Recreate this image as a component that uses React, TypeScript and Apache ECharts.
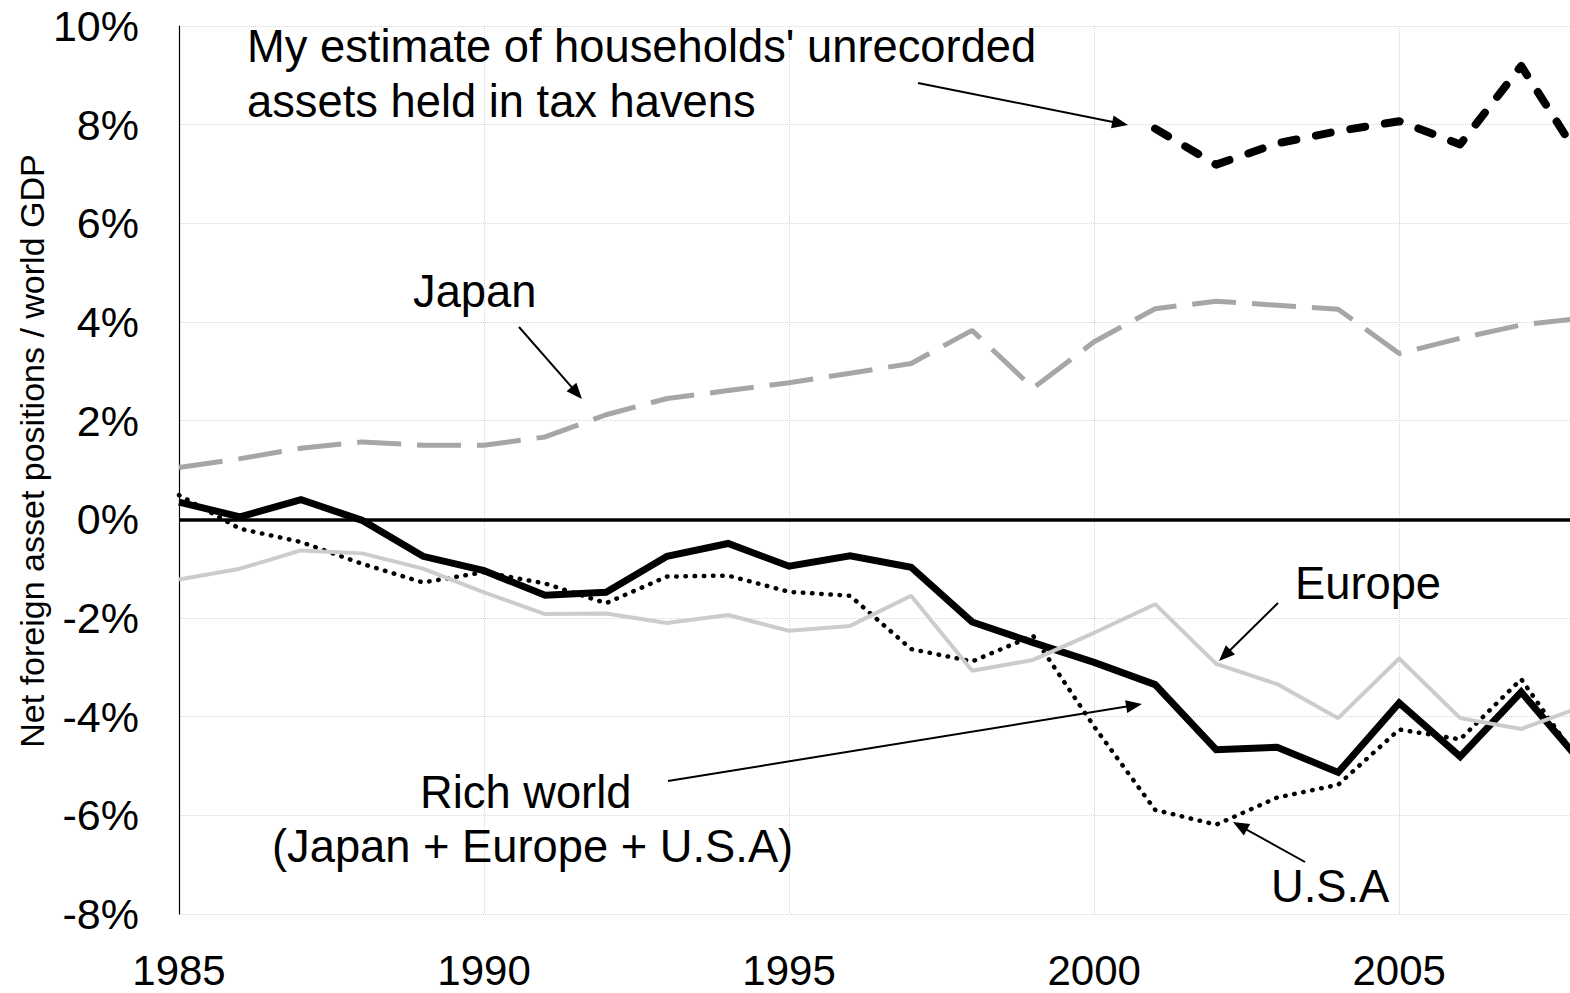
import React, { useEffect, useRef } from "react";
import * as echarts from "echarts";

const FONT = '"Liberation Sans", Arial, sans-serif';

const years = [1985, 1986, 1987, 1988, 1989, 1990, 1991, 1992, 1993, 1994, 1995, 1996, 1997, 1998, 1999, 2000, 2001, 2002, 2003, 2004, 2005, 2006, 2007, 2008];
const richWorld = [0.35, 0.05, 0.4, -0.02, -0.75, -1.04, -1.54, -1.48, -0.75, -0.49, -0.95, -0.74, -0.97, -2.08, -2.5, -2.9, -3.35, -4.67, -4.62, -5.13, -3.72, -4.81, -3.5, -4.95];
const usa = [0.49, -0.19, -0.46, -0.9, -1.28, -1.07, -1.3, -1.7, -1.16, -1.14, -1.47, -1.55, -2.63, -2.88, -2.36, -4.2, -5.89, -6.19, -5.64, -5.38, -4.26, -4.46, -3.24, -5.0];
const europe = [-1.22, -1.0, -0.63, -0.69, -1.0, -1.48, -1.92, -1.91, -2.1, -1.94, -2.26, -2.16, -1.55, -3.07, -2.85, -2.3, -1.72, -2.93, -3.34, -4.03, -2.82, -4.03, -4.25, -3.8];
const japan = [1.05, 1.23, 1.44, 1.57, 1.5, 1.5, 1.67, 2.12, 2.45, 2.61, 2.77, 2.96, 3.16, 3.83, 2.66, 3.6, 4.27, 4.42, 4.34, 4.26, 3.36, 3.67, 3.94, 4.08];
const taxHavens: (number | null)[] = [null, null, null, null, null, null, null, null, null, null, null, null, null, null, null, null, 7.92, 7.19, 7.62, 7.87, 8.07, 7.6, 9.19, 7.25];

const yTickValues = [-8, -6, -4, -2, 0, 2, 4, 6, 8, 10];
const xTickYears = [1985, 1990, 1995, 2000, 2005];

const yAxisTitle = "Net foreign asset positions / world GDP";

function pairs(vals: (number | null)[]) {
  const out: [number, number][] = [];
  vals.forEach((v, i) => {
    if (v !== null) out.push([years[i], v]);
  });
  return out;
}

function arrow(x1: number, y1: number, x2: number, y2: number) {
  const headLen = 16;
  const headW = 6.5;
  const dx = x2 - x1;
  const dy = y2 - y1;
  const L = Math.hypot(dx, dy);
  const ux = dx / L;
  const uy = dy / L;
  const bx = x2 - ux * headLen;
  const by = y2 - uy * headLen;
  const px = -uy;
  const py = ux;
  return [
    { type: "line", z: 100, shape: { x1, y1, x2: bx + ux * 2, y2: by + uy * 2 }, style: { stroke: "#000", lineWidth: 2 } },
    {
      type: "polygon",
      z: 100,
      shape: { points: [[x2, y2], [bx + px * headW, by + py * headW], [bx - px * headW, by - py * headW]] },
      style: { fill: "#000" },
    },
  ];
}

function label(text: string, x: number, y: number, size = 45.3) {
  return {
    type: "text",
    z: 100,
    x,
    y,
    style: {
      text,
      fontSize: size,
      fontFamily: FONT,
      fill: "#000",
      textAlign: "left",
      align: "left",
      textVerticalAlign: "middle",
      verticalAlign: "middle",
    },
  };
}

export default function App() {
  const ref = useRef<HTMLDivElement>(null);

  useEffect(() => {
    if (!ref.current) return;
    const chart = echarts.init(ref.current, null, { renderer: "svg" });

    const graphics: any[] = [
      {
        type: "text",
        z: 100,
        x: 32,
        y: 451,
        rotation: Math.PI / 2,
        style: {
          text: yAxisTitle,
          fontSize: 34,
          fontFamily: FONT,
          fill: "#000",
          textAlign: "center",
          align: "center",
          textVerticalAlign: "middle",
          verticalAlign: "middle",
        },
      },
      label("My estimate of households' unrecorded", 247, 46),
      label("assets held in tax havens", 247, 101),
      label("Japan", 413, 291),
      label("Europe", 1295, 583),
      label("Rich world", 420, 792),
      label("(Japan + Europe + U.S.A)", 272, 846),
      label("U.S.A", 1271, 886),
      ...arrow(918, 83, 1128, 125),
      ...arrow(519, 327, 582, 399),
      ...arrow(668, 781, 1142, 704),
      ...arrow(1278, 603, 1219, 661),
      ...arrow(1305, 862, 1233, 822),
    ];

    chart.setOption({
      animation: false,
      backgroundColor: "#fff",
      textStyle: { fontFamily: FONT },
      grid: { left: 179, right: 0, top: 26, bottom: 79, containLabel: false },
      xAxis: {
        type: "value",
        min: xTickYears[0],
        max: 2007.8,
        interval: 5,
        axisLine: { show: false, onZero: false },
        axisTick: { show: false },
        axisLabel: {
          fontSize: 42,
          lineHeight: 30,
          fontFamily: FONT,
          color: "#000",
          margin: 41,
          showMaxLabel: false,
          formatter: (v: number) => (xTickYears.includes(v) ? String(v) : ""),
        },
        splitLine: { show: true, lineStyle: { color: "#d6d6d6", type: "dotted", width: 1 } },
      },
      yAxis: {
        type: "value",
        min: yTickValues[0],
        max: yTickValues[yTickValues.length - 1],
        interval: 2,
        axisLine: { show: true, onZero: false, lineStyle: { color: "#000", width: 1.2 } },
        axisTick: { show: false },
        axisLabel: {
          fontSize: 43,
          fontFamily: FONT,
          color: "#000",
          margin: 40,
          formatter: (v: number) => `${v}%`,
        },
        splitLine: { show: true, lineStyle: { color: "#d6d6d6", type: "dotted", width: 1 } },
      },
      series: [
        {
          name: "Rich world",
          type: "line",
          data: pairs(richWorld),
          symbol: "none",
          lineStyle: { color: "#000", width: 7, join: "miter" },
          markLine: {
            silent: true,
            symbol: ["none", "none"],
            label: { show: false },
            lineStyle: { color: "#000", width: 3.5, type: "solid" },
            data: [{ yAxis: 0 }],
          },
          z: 3,
        },
        {
          name: "U.S.A",
          type: "line",
          data: pairs(usa),
          symbol: "none",
          lineStyle: { color: "#000", width: 4.5, type: [0.5, 8.7], cap: "round" },
          z: 4,
        },
        {
          name: "Tax havens",
          type: "line",
          data: pairs(taxHavens),
          symbol: "none",
          lineStyle: { color: "#000", width: 8, type: [15, 20], cap: "round", join: "round" },
          z: 4,
        },
        {
          name: "Japan",
          type: "line",
          data: pairs(japan),
          symbol: "none",
          lineStyle: { color: "#a6a6a6", width: 5, type: [44, 16] },
          z: 4,
        },
        {
          name: "Europe",
          type: "line",
          data: pairs(europe),
          symbol: "none",
          lineStyle: { color: "#cccccc", width: 4 },
          z: 5,
        },
      ],
      graphic: graphics,
    });

    return () => chart.dispose();
  }, []);

  return <div ref={ref} style={{ position: "absolute", left: 0, top: 0, width: 1570, height: 993 }} />;
}
